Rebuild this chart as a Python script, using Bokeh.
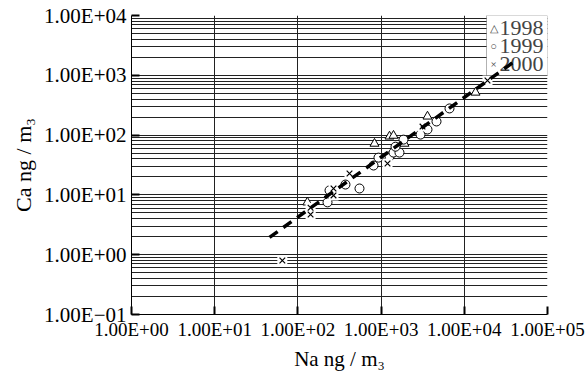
from bokeh.plotting import figure
from bokeh.models import FixedTicker, Label, BoxAnnotation
from bokeh.embed import file_html
from bokeh.resources import INLINE
import numpy as np

# Na vs Ca concentrations (ng/m3) per sampling year
na_1998 = [130, 833, 1262, 1409, 1910, 3610, 13640]
ca_1998 = [7.5, 72, 95, 98, 72, 205, 515]

na_1999 = [227, 240, 373, 550, 811, 930, 1262, 1409, 1663, 1490, 1858, 2977, 3610, 4634, 6640]
ca_1999 = [7.5, 11.9, 14.9, 12.8, 31, 42, 44, 51, 51, 64, 84, 102, 124, 169, 279]

na_2000 = [65, 142, 142, 268, 268, 417, 1194, 3145, 19000]
ca_2000 = [0.8, 6.1, 4.7, 12.8, 9.8, 22.8, 33.5, 139, 818]

# log-log regression line: log10(Ca) = slope * log10(Na) + intercept
fit_slope = 1.0
fit_intercept = -1.37
fit_na_range = [45.6, 39000]

years = ["1998", "1999", "2000"]
year_symbols = ["\u25b3", "\u25cb", "\u00d7"]

x_ticks = [1, 10, 100, 1000, 10000, 100000]
x_tick_labels = ["1.00E+00", "1.00E+01", "1.00E+02", "1.00E+03", "1.00E+04", "1.00E+05"]
y_ticks = [0.1, 1, 10, 100, 1000, 10000]
y_tick_labels = ["1.00E\u221201", "1.00E+00", "1.00E+01", "1.00E+02", "1.00E+03", "1.00E+04"]

FONT = "Liberation Serif"
FRAME_W, FRAME_H = 416, 299

p = figure(width=587, height=373, x_axis_type="log", y_axis_type="log",
           x_range=(1, 1e5), y_range=(0.1, 1e4),
           output_backend="svg", toolbar_location=None,
           min_border_left=131, min_border_right=40,
           min_border_top=15, min_border_bottom=59)
p.outline_line_color = None
p.background_fill_color = "white"

y_minor = [k * 10.0 ** e for e in range(-1, 4) for k in range(2, 10)]
p.yaxis.ticker = FixedTicker(ticks=y_ticks, minor_ticks=y_minor)
p.xaxis.ticker = FixedTicker(ticks=x_ticks, minor_ticks=[])
p.yaxis.major_label_overrides = dict(zip(y_ticks, y_tick_labels))
p.xaxis.major_label_overrides = dict(zip(x_ticks, x_tick_labels))

for ax in (p.xaxis, p.yaxis):
    ax.axis_line_color = "black"
    ax.axis_line_width = 1
    ax.major_tick_in = 8
    ax.major_tick_out = 0
    ax.major_tick_line_width = 2
    ax.minor_tick_in = 0
    ax.minor_tick_out = 0
    ax.major_label_text_font = FONT
    ax.axis_label_text_font = FONT
    ax.axis_label_text_font_style = "normal"
    ax.axis_label_text_color = "black"
    ax.major_label_text_color = "black"

p.yaxis.major_label_text_font_size = "21px"
p.xaxis.major_label_text_font_size = "19px"
p.yaxis.axis_label = "Ca ng / m\u2083"
p.xaxis.axis_label = "Na ng / m\u2083"
p.yaxis.axis_label_text_font_size = "22px"
p.xaxis.axis_label_text_font_size = "21px"
p.yaxis.major_label_standoff = 5
p.xaxis.major_label_standoff = 4
p.yaxis.axis_label_standoff = 5
p.xaxis.axis_label_standoff = 4

# dense horizontal grid at every decade subdivision, vertical only at decades
p.ygrid.grid_line_color = "#222222"
p.ygrid.minor_grid_line_color = "#222222"
p.ygrid.grid_line_width = 1
p.ygrid.minor_grid_line_width = 1
p.xgrid.ticker = FixedTicker(ticks=[10, 100, 1000, 10000])
p.xgrid.grid_line_color = "#222222"
p.xgrid.grid_line_width = 1

p.scatter(na_1998, ca_1998, marker="triangle", size=9,
          fill_color="white", line_color="black", line_width=1)
p.scatter(na_1999, ca_1999, marker="circle", size=9,
          fill_color="white", line_color="black", line_width=1)
p.scatter(na_2000, ca_2000, marker="square", size=10,
          fill_color="white", line_color=None)
p.scatter(na_2000, ca_2000, marker="x", size=8,
          line_color="black", line_width=1.2)

fit_x = np.array(fit_na_range, dtype=float)
fit_y = 10 ** (fit_slope * np.log10(fit_x) + fit_intercept)
p.line(fit_x, fit_y, line_color="black", line_width=3.5,
       line_dash="10 7", level="overlay")

# compact key box in the top-right corner of the frame
box_w, box_h, row_h = 61, 60, 18
p.add_layout(BoxAnnotation(left=FRAME_W - box_w, right=FRAME_W,
                           bottom=FRAME_H - box_h, top=FRAME_H,
                           left_units="screen", right_units="screen",
                           bottom_units="screen", top_units="screen",
                           fill_color="white", fill_alpha=1,
                           line_color="black", line_width=1))
for i, (sym, yr) in enumerate(zip(year_symbols, years)):
    cy = FRAME_H - 12 - i * row_h
    p.add_layout(Label(x=FRAME_W - box_w + 7, y=cy, text=sym,
                       x_units="screen", y_units="screen",
                       text_font=FONT, text_font_size="11px",
                       text_align="center", text_baseline="middle"))
    p.add_layout(Label(x=FRAME_W - box_w + 13, y=cy, text=yr,
                       x_units="screen", y_units="screen",
                       text_font=FONT, text_font_size="22px",
                       text_align="left", text_baseline="middle"))

open("out.html", "w").write(file_html(p, INLINE))
